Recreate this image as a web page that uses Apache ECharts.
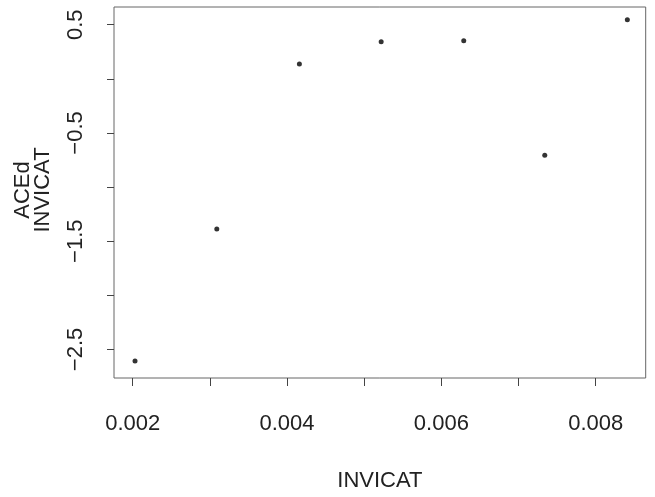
<!DOCTYPE html>
<html>
<head>
<meta charset="utf-8">
<script src="https://cdn.jsdelivr.net/npm/echarts@6/dist/echarts.min.js"></script>
<style>
html,body{margin:0;padding:0;background:#fff;}
#chart{width:655px;height:497px;}
</style>
</head>
<body>
<div id="chart"></div>
<script>
// Data
var xValues = [0.00203, 0.00309, 0.00416, 0.00522, 0.00629, 0.00734, 0.00841];
var yValues = [-2.606, -1.388, 0.136, 0.343, 0.352, -0.706, 0.545];
var xTicks = [0.002, 0.003, 0.004, 0.005, 0.006, 0.007, 0.008];
var xTickLabels = [0.002, 0.004, 0.006, 0.008];
var yTicks = [-2.5, -2, -1.5, -1, -0.5, 0, 0.5];
var yTickLabels = [-2.5, -1.5, -0.5, 0.5];
var xTitle = 'INVICAT';
var yTitle = 'ACEd\nINVICAT';

var points = xValues.map(function (x, i) { return [x, yValues[i]]; });
var FONT = 'Liberation Sans, Arial, Helvetica, sans-serif';
var chart = echarts.init(document.getElementById('chart'), null, {renderer: 'canvas'});
chart.setOption({
  animation: false,
  backgroundColor: '#ffffff',
  grid: {left: 114, right: 9.3, top: 7, bottom: 113, show: true, borderColor: '#666', borderWidth: 1, backgroundColor: 'transparent'},
  xAxis: {
    type: 'value',
    min: 0.0017577, max: 0.0086479,
    name: xTitle, nameLocation: 'middle', nameGap: 92,
    nameTextStyle: {fontFamily: FONT, fontSize: 22, color: '#222'},
    axisLine: {show: false, onZero: false},
    splitLine: {show: false},
    axisTick: {show: true, length: 8, customValues: xTicks, lineStyle: {color: '#444', width: 1}},
    axisLabel: {show: true, customValues: xTickLabels, margin: 35, fontFamily: FONT, fontSize: 22, color: '#222',
      formatter: function (v) { return Number(v).toFixed(3); }}
  },
  yAxis: {
    type: 'value',
    min: -2.7636, max: 0.6636,
    axisLine: {show: false, onZero: false},
    splitLine: {show: false},
    axisTick: {show: true, length: 7, customValues: yTicks, lineStyle: {color: '#444', width: 1}},
    axisLabel: {show: true, customValues: yTickLabels, rotate: 90, margin: 27, fontFamily: FONT, fontSize: 22, color: '#222',
      formatter: function (v) { return String(Number(v)).replace('-', '\u2212'); }}
  },
  graphic: [{
    type: 'text',
    x: 33, y: 190,
    rotation: Math.PI / 2,
    style: {text: yTitle, fontFamily: FONT, fontSize: 22, lineHeight: 20, fill: '#222', align: 'center', verticalAlign: 'middle'}
  }],
  series: [{
    type: 'scatter',
    data: points,
    symbol: 'circle',
    symbolSize: 5,
    itemStyle: {color: '#000'}
  }]
});
</script>
</body>
</html>
